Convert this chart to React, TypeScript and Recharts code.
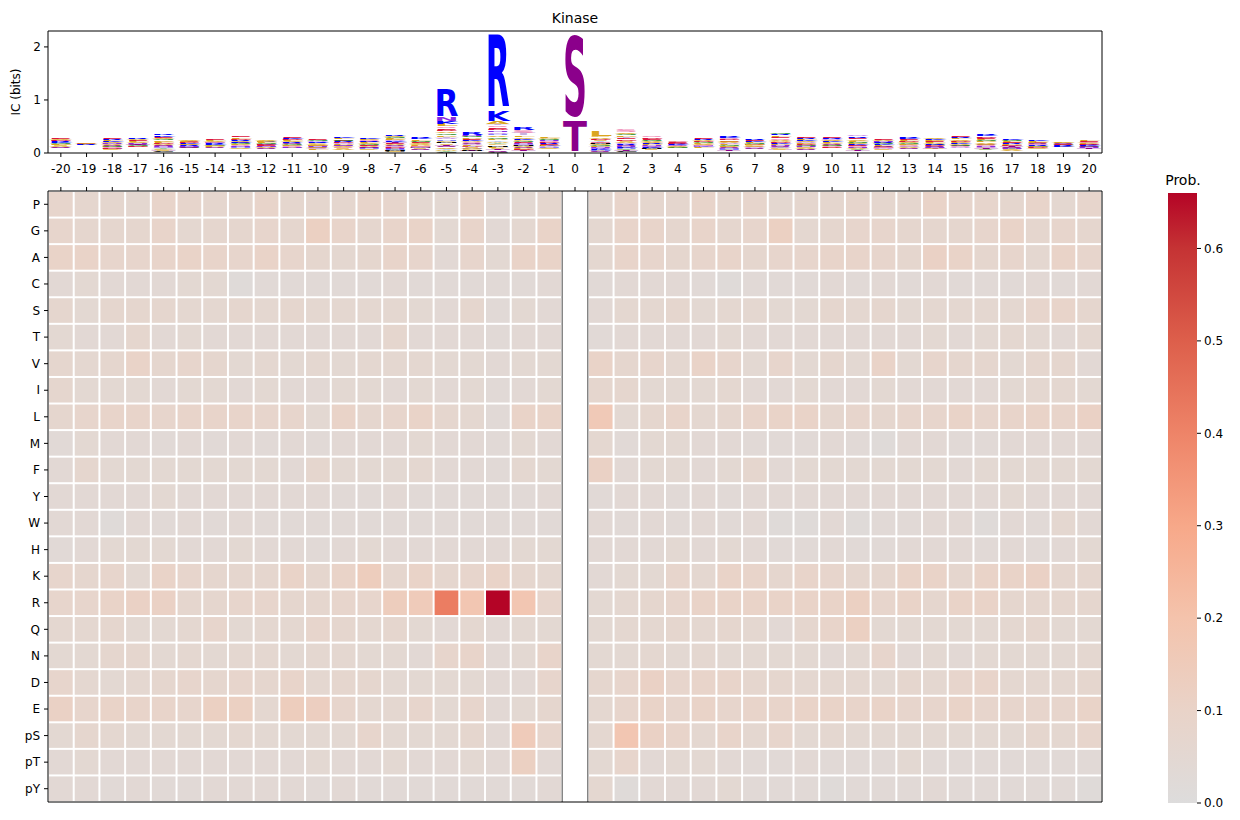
import React from 'react'
import { BarChart, Bar, XAxis, YAxis, ScatterChart, Scatter, ReferenceLine } from 'recharts'

// positions around the phosphosite
const positions = [
  -20, -19, -18, -17, -16, -15, -14, -13, -12, -11, -10, -9, -8, -7, -6, -5, -4, -3, -2, -1, 0,
  1, 2, 3, 4, 5, 6, 7, 8, 9, 10, 11, 12, 13, 14, 15, 16, 17, 18, 19, 20,
]

const residues = ['P', 'G', 'A', 'C', 'S', 'T', 'V', 'I', 'L', 'M', 'F', 'Y', 'W', 'H', 'K', 'R', 'Q', 'N', 'D', 'E', 'pS', 'pT', 'pY']

// probabilities per residue, columns -20..-1, 0 (empty), 1..20
const probP = [.08, .07, .07, .06, .09, .08, .07, .07, .09, .07, .07, .07, .09, .08, .06, .05, .09, .04, .05, .07, null, .06, .09, .07, .07, .09, .07, .08, .06, .07, .07, .08, .07, .07, .10, .08, .08, .07, .09, .06, .08]
const probG = [.08, .07, .07, .07, .09, .06, .07, .07, .08, .07, .12, .09, .07, .09, .10, .05, .09, .04, .06, .10, null, .06, .09, .09, .07, .09, .07, .08, .12, .06, .07, .08, .08, .07, .07, .07, .08, .10, .07, .08, .07]
const probA = [.10, .10, .08, .08, .09, .10, .09, .08, .10, .08, .07, .06, .07, .09, .08, .04, .08, .05, .10, .10, null, .06, .09, .08, .07, .08, .09, .07, .08, .08, .09, .09, .08, .07, .11, .10, .07, .08, .06, .10, .08]
const probC = [.04, .05, .04, .04, .04, .05, .05, .02, .03, .03, .03, .03, .03, .04, .03, .03, .03, .03, .03, .04, null, .03, .04, .04, .04, .03, .02, .03, .03, .03, .04, .03, .04, .03, .04, .03, .03, .03, .04, .03, .04]
const probS = [.07, .05, .07, .07, .07, .06, .06, .07, .06, .07, .06, .06, .06, .06, .05, .04, .07, .03, .05, .04, null, .04, .06, .06, .07, .05, .06, .06, .05, .05, .07, .06, .07, .05, .06, .06, .06, .06, .08, .09, .07]
const probT = [.05, .04, .04, .07, .04, .05, .04, .04, .04, .04, .04, .04, .04, .07, .04, .04, .04, .03, .04, .04, null, .03, .04, .04, .04, .04, .05, .04, .04, .04, .04, .04, .04, .04, .05, .04, .05, .06, .05, .04, .06]
const probV = [.07, .06, .07, .10, .07, .08, .07, .05, .06, .05, .06, .05, .06, .06, .06, .05, .05, .04, .05, .05, null, .10, .07, .08, .06, .10, .08, .05, .08, .05, .07, .05, .10, .05, .08, .07, .07, .05, .07, .07, .04]
const probI = [.07, .05, .05, .05, .04, .05, .05, .04, .05, .04, .04, .05, .05, .04, .05, .04, .05, .03, .04, .05, null, .07, .07, .05, .05, .05, .06, .04, .04, .05, .04, .04, .05, .04, .04, .04, .04, .05, .06, .06, .05]
const probL = [.07, .08, .09, .09, .08, .09, .09, .09, .08, .08, .05, .10, .07, .08, .10, .07, .06, .03, .10, .10, null, .16, .05, .07, .09, .06, .07, .09, .10, .10, .07, .08, .07, .08, .08, .10, .08, .09, .10, .09, .11]
const probM = [.03, .05, .04, .04, .03, .04, .03, .04, .03, .04, .03, .04, .04, .04, .05, .04, .04, .03, .05, .04, null, .06, .03, .05, .05, .04, .04, .03, .03, .03, .04, .03, .02, .04, .04, .03, .03, .04, .04, .04, .04]
const probF = [.04, .07, .05, .05, .05, .05, .05, .05, .05, .04, .07, .05, .05, .05, .06, .04, .04, .03, .06, .05, null, .11, .04, .05, .05, .04, .05, .07, .04, .05, .05, .05, .05, .05, .05, .04, .05, .05, .05, .05, .05]
const probY = [.04, .04, .04, .04, .05, .04, .04, .04, .04, .04, .04, .03, .03, .04, .03, .03, .03, .03, .03, .04, null, .03, .04, .04, .03, .04, .03, .04, .04, .04, .04, .04, .04, .04, .04, .04, .04, .05, .04, .04, .04]
const probW = [.04, .04, .02, .04, .03, .04, .03, .04, .03, .03, .03, .03, .03, .03, .03, .03, .03, .03, .03, .03, null, .04, .03, .04, .03, .04, .03, .04, .02, .02, .04, .02, .03, .03, .04, .04, .02, .04, .03, .06, .04]
const probH = [.03, .04, .05, .05, .05, .04, .04, .05, .04, .04, .03, .04, .05, .04, .04, .04, .04, .04, .05, .05, null, .04, .04, .04, .05, .04, .05, .04, .03, .03, .04, .03, .03, .04, .04, .04, .03, .04, .03, .04, .05]
const probK = [.08, .07, .08, .05, .10, .08, .07, .07, .07, .10, .07, .10, .14, .07, .10, .07, .08, .10, .07, .06, null, .04, .05, .05, .08, .06, .10, .09, .07, .09, .08, .07, .07, .10, .10, .07, .10, .10, .11, .07, .07]
const probR = [.08, .08, .10, .11, .11, .07, .07, .08, .08, .07, .07, .08, .08, .14, .15, .42, .18, .66, .18, .08, null, .05, .06, .07, .08, .10, .10, .10, .10, .10, .10, .12, .08, .10, .07, .10, .10, .07, .07, .07, .07]
const probQ = [.06, .06, .07, .05, .05, .06, .08, .05, .06, .06, .08, .07, .06, .07, .05, .04, .06, .04, .05, .05, null, .05, .06, .06, .07, .06, .07, .06, .04, .07, .09, .12, .05, .05, .05, .05, .05, .06, .07, .05, .05]
const probN = [.05, .05, .07, .07, .05, .06, .05, .06, .06, .05, .06, .06, .05, .05, .04, .08, .09, .04, .05, .09, null, .05, .05, .06, .05, .06, .05, .05, .05, .05, .04, .05, .08, .04, .05, .04, .05, .05, .05, .05, .06]
const probD = [.08, .06, .05, .06, .07, .08, .07, .08, .07, .09, .06, .07, .07, .05, .05, .05, .05, .04, .04, .08, null, .07, .08, .11, .08, .09, .09, .07, .07, .06, .06, .06, .05, .07, .06, .08, .09, .06, .06, .06, .07]
const probE = [.11, .08, .10, .09, .09, .08, .12, .12, .06, .14, .13, .08, .06, .06, .08, .05, .08, .04, .05, .07, null, .06, .08, .10, .08, .10, .08, .09, .09, .10, .10, .09, .10, .08, .08, .10, .08, .08, .08, .08, .10]
const probPS = [.05, .07, .06, .05, .05, .05, .05, .06, .05, .05, .05, .05, .08, .05, .05, .05, .07, .04, .15, .08, null, .06, .18, .11, .09, .06, .09, .06, .08, .05, .06, .05, .05, .05, .05, .05, .05, .05, .07, .06, .08]
const probPT = [.04, .05, .04, .04, .04, .04, .04, .04, .04, .04, .05, .04, .04, .05, .04, .04, .05, .04, .12, .04, null, .05, .08, .04, .05, .05, .04, .03, .03, .04, .03, .03, .03, .05, .03, .03, .03, .03, .03, .03, .03]
const probPY = [.04, .04, .03, .04, .03, .03, .04, .04, .04, .04, .03, .04, .03, .03, .03, .03, .03, .03, .03, .04, null, .06, .02, .04, .04, .04, .05, .03, .03, .03, .02, .03, .03, .03, .04, .03, .03, .03, .03, .03, .02]

const probRows = [probP, probG, probA, probC, probS, probT, probV, probI, probL, probM, probF, probY, probW, probH, probK, probR, probQ, probN, probD, probE, probPS, probPT, probPY]

// total stack height of the logo per position (bits)
const logoIC = [
  .28, .19, .28, .28, .36, .25, .27, .32, .25, .32, .28, .30, .30, .36, .31, 1.23, .39, 2.47, .48, .31, 2.43,
  .42, .44, .32, .23, .28, .32, .26, .40, .31, .31, .34, .27, .31, .29, .33, .37, .27, .25, .21, .25,
]

// letters that stand out in the logo, heights (bits)
const majorPos = [-5, -5, -3, -3, 0, 0, 1]
const majorAA = ['R', 'N', 'R', 'K', 'S', 'T', 'L']
const majorBits = [0.56, 0.08, 1.66, 0.22, 1.8, 0.63, 0.10]

const icTicks = [0, 1, 2]
const probTicks = [0, 0.1, 0.2, 0.3, 0.4, 0.5, 0.6]

const letterColor: Record<string, string> = {
  K: '#0000ff', R: '#0000ff', H: '#7f7fff',
  D: '#dc143c', E: '#dc143c',
  S: '#8b008b', T: '#8b008b',
  N: '#8a2be2', Q: '#c58ae8',
  G: '#228b22', Y: '#8fc98f',
  A: '#daa520', V: '#daa520', L: '#daa520', I: '#e8c46a', F: '#e8c46a', W: '#e8c46a', P: '#daa520',
  C: '#000000', M: '#000000',
  pS: '#f08cb8', pT: '#c9b3e0', pY: '#b5c8f0',
}

const cmap: [number, number[]][] = [
  [0, [221, 220, 220]], [0.1, [233, 211, 200]], [0.2, [244, 195, 172]], [0.3, [247, 168, 137]],
  [0.4, [238, 132, 104]], [0.5, [221, 95, 75]], [0.6, [197, 51, 52]], [0.66, [180, 4, 38]],
]

function probColor(v: number) {
  for (let i = 1; i < cmap.length; i++) {
    const [t1, c1] = cmap[i]
    const [t0, c0] = cmap[i - 1]
    if (v <= t1 || i === cmap.length - 1) {
      const f = Math.max(0, Math.min(1, (v - t0) / (t1 - t0)))
      const c = c0.map((a, k) => Math.round(a + (c1[k] - a) * f))
      return `rgb(${c[0]},${c[1]},${c[2]})`
    }
  }
  return '#ddd'
}

const FONT = 'DejaVu Sans'
const VPAD = 0.1
const CAP = 72.9
const SLOTS = residues.length

// logo table: letters sorted per position, smallest at the bottom
const logoData = positions.map((pos, j) => {
  const letters: { aa: string; h: number }[] = []
  majorPos.forEach((p, k) => {
    if (p === pos) letters.push({ aa: majorAA[k], h: majorBits[k] })
  })
  const used = new Set(letters.map((l) => l.aa))
  const rest = logoIC[j] - letters.reduce((s, l) => s + l.h, 0)
  const others = residues
    .map((aa, r) => ({ aa, p: probRows[r][j] }))
    .filter((o) => o.p != null && !used.has(o.aa)) as { aa: string; p: number }[]
  const tot = others.reduce((s, o) => s + o.p, 0)
  others.forEach((o) => letters.push({ aa: o.aa, h: (rest * o.p) / tot }))
  letters.sort((a, b) => a.h - b.h)
  const row: any = { pos }
  for (let i = 0; i < SLOTS; i++) {
    row['h' + i] = letters[i] ? letters[i].h : 0
    row['l' + i] = letters[i] ? letters[i].aa : ''
  }
  return row
})

const heatData = residues.flatMap((aa, r) =>
  positions
    .map((pos, j) => ({ pos, row: r, aa, p: probRows[r][j] }))
    .filter((d) => d.p != null)
)

const maxProb = Math.max(...heatData.map((d) => d.p as number))
const colorbarData = [{ name: 'Prob.', v: maxProb }]

const HEAT_W = 1054
const HEAT_H = 611
const CELL_W = HEAT_W / positions.length
const CELL_H = HEAT_H / residues.length

function Glyph(props: any) {
  const { x, y, width, height, payload, slot } = props
  const aa = payload ? payload['l' + slot] : ''
  if (!aa || !(height > 0.2)) return null
  const pad = (height * VPAD) / 2
  const gh = height - 2 * pad
  const ch = aa.length > 1 ? aa[1] : aa
  return (
    <text
      x={0}
      y={0}
      transform={`translate(${x} ${y + height - pad}) scale(1 ${gh / CAP})`}
      fontSize={100}
      fontFamily={FONT}
      fontWeight="bold"
      fill={letterColor[aa]}
      textLength={width}
      lengthAdjust="spacingAndGlyphs"
    >
      {ch}
    </text>
  )
}

// cell inset by 1px each side leaves the white grid lines
function HeatCell(props: any) {
  const { cx, cy, payload } = props
  if (cx == null || cy == null) return null
  return (
    <rect
      x={cx - CELL_W / 2 + 1}
      y={cy - CELL_H / 2 + 1}
      width={CELL_W - 2}
      height={CELL_H - 2}
      fill={probColor(payload.p)}
    />
  )
}

const tickStyle = { fontSize: 12, fill: '#000', fontFamily: FONT }
const lineStyle = { stroke: '#000' }

export default function App() {
  return (
    <div style={{ position: 'absolute', left: 0, top: 0, width: 1240, height: 820, background: '#fff', fontFamily: FONT }}>
      <div style={{ position: 'absolute', left: 48, top: 10, width: 1054, textAlign: 'center', fontSize: 14 }}>Kinase</div>
      <div
        style={{
          position: 'absolute', left: 16, top: 92, fontSize: 12, whiteSpace: 'nowrap',
          transform: 'translate(-50%, -50%) rotate(-90deg)',
        }}
      >
        IC (bits)
      </div>

      <div style={{ position: 'absolute', left: 0, top: 0 }}>
        <BarChart
          width={1240}
          height={190}
          data={logoData}
          margin={{ top: 30, right: 137, bottom: 0, left: 0 }}
          barCategoryGap="3%"
          barGap={0}
        >
          <XAxis
            dataKey="pos"
            interval={0}
            height={37}
            tick={tickStyle}
            tickLine={lineStyle}
            axisLine={lineStyle}
            tickSize={4}
            tickMargin={7}
          />
          <XAxis xAxisId="top" dataKey="pos" orientation="top" height={1} tick={false} tickLine={false} axisLine={lineStyle} />
          <YAxis
            domain={[0, 2.3]}
            ticks={icTicks}
            allowDataOverflow
            width={48}
            tick={tickStyle}
            tickLine={lineStyle}
            axisLine={lineStyle}
            tickSize={4}
            tickMargin={3}
          />
          <YAxis yAxisId="r" orientation="right" domain={[0, 2.3]} width={1} tick={false} tickLine={false} axisLine={lineStyle} />
          {Array.from({ length: SLOTS }, (_, i) => (
            <Bar
              key={i}
              dataKey={'h' + i}
              stackId="logo"
              isAnimationActive={false}
              shape={(p: any) => <Glyph {...p} slot={i} />}
            />
          ))}
        </BarChart>
      </div>

      <div style={{ position: 'absolute', left: 0, top: 180 }}>
        <ScatterChart width={1240} height={640} margin={{ top: 5, right: 137, bottom: 17, left: 0 }}>
          <XAxis
            dataKey="pos"
            type="number"
            orientation="top"
            domain={[-20.5, 20.5]}
            ticks={positions}
            interval={0}
            height={6}
            tick={tickStyle}
            tickFormatter={() => ''}
            tickLine={lineStyle}
            axisLine={lineStyle}
            tickSize={4}
          />
          <XAxis xAxisId="b" type="number" domain={[-20.5, 20.5]} height={1} tick={false} tickLine={false} axisLine={lineStyle} />
          <YAxis
            dataKey="row"
            type="number"
            domain={[-0.5, residues.length - 0.5]}
            reversed
            ticks={residues.map((_, i) => i)}
            interval={0}
            tickFormatter={(i: number) => residues[i]}
            width={48}
            tick={tickStyle}
            tickLine={lineStyle}
            axisLine={lineStyle}
            tickSize={4}
            tickMargin={4}
          />
          <YAxis yAxisId="r" orientation="right" type="number" domain={[-0.5, residues.length - 0.5]} width={1} tick={false} tickLine={false} axisLine={lineStyle} />
          <Scatter data={heatData} isAnimationActive={false} shape={(p: any) => <HeatCell {...p} />} />
          <ReferenceLine x={-0.5} stroke="#444" strokeWidth={1} />
          <ReferenceLine x={0.5} stroke="#444" strokeWidth={1} />
        </ScatterChart>
      </div>

      <div style={{ position: 'absolute', left: 1140, top: 172, width: 86, textAlign: 'center', fontSize: 14 }}>Prob.</div>
      <div style={{ position: 'absolute', left: 1140, top: 180 }}>
        <BarChart width={100} height={640} data={colorbarData} margin={{ top: 13, right: 0, bottom: 17, left: 28 }} barCategoryGap={0}>
          <defs>
            <linearGradient id="cbGrad" x1="0" y1="1" x2="0" y2="0">
              {cmap.map(([t, c]) => (
                <stop key={t} offset={`${(t / maxProb) * 100}%`} stopColor={`rgb(${c[0]},${c[1]},${c[2]})`} />
              ))}
            </linearGradient>
          </defs>
          <XAxis dataKey="name" hide />
          <YAxis
            orientation="right"
            domain={[0, maxProb]}
            ticks={probTicks}
            allowDataOverflow
            width={43}
            tick={tickStyle}
            tickFormatter={(v: number) => v.toFixed(1)}
            tickLine={lineStyle}
            axisLine={false}
            tickSize={4}
            tickMargin={3}
          />
          <Bar dataKey="v" fill="url(#cbGrad)" isAnimationActive={false} />
        </BarChart>
      </div>
    </div>
  )
}
